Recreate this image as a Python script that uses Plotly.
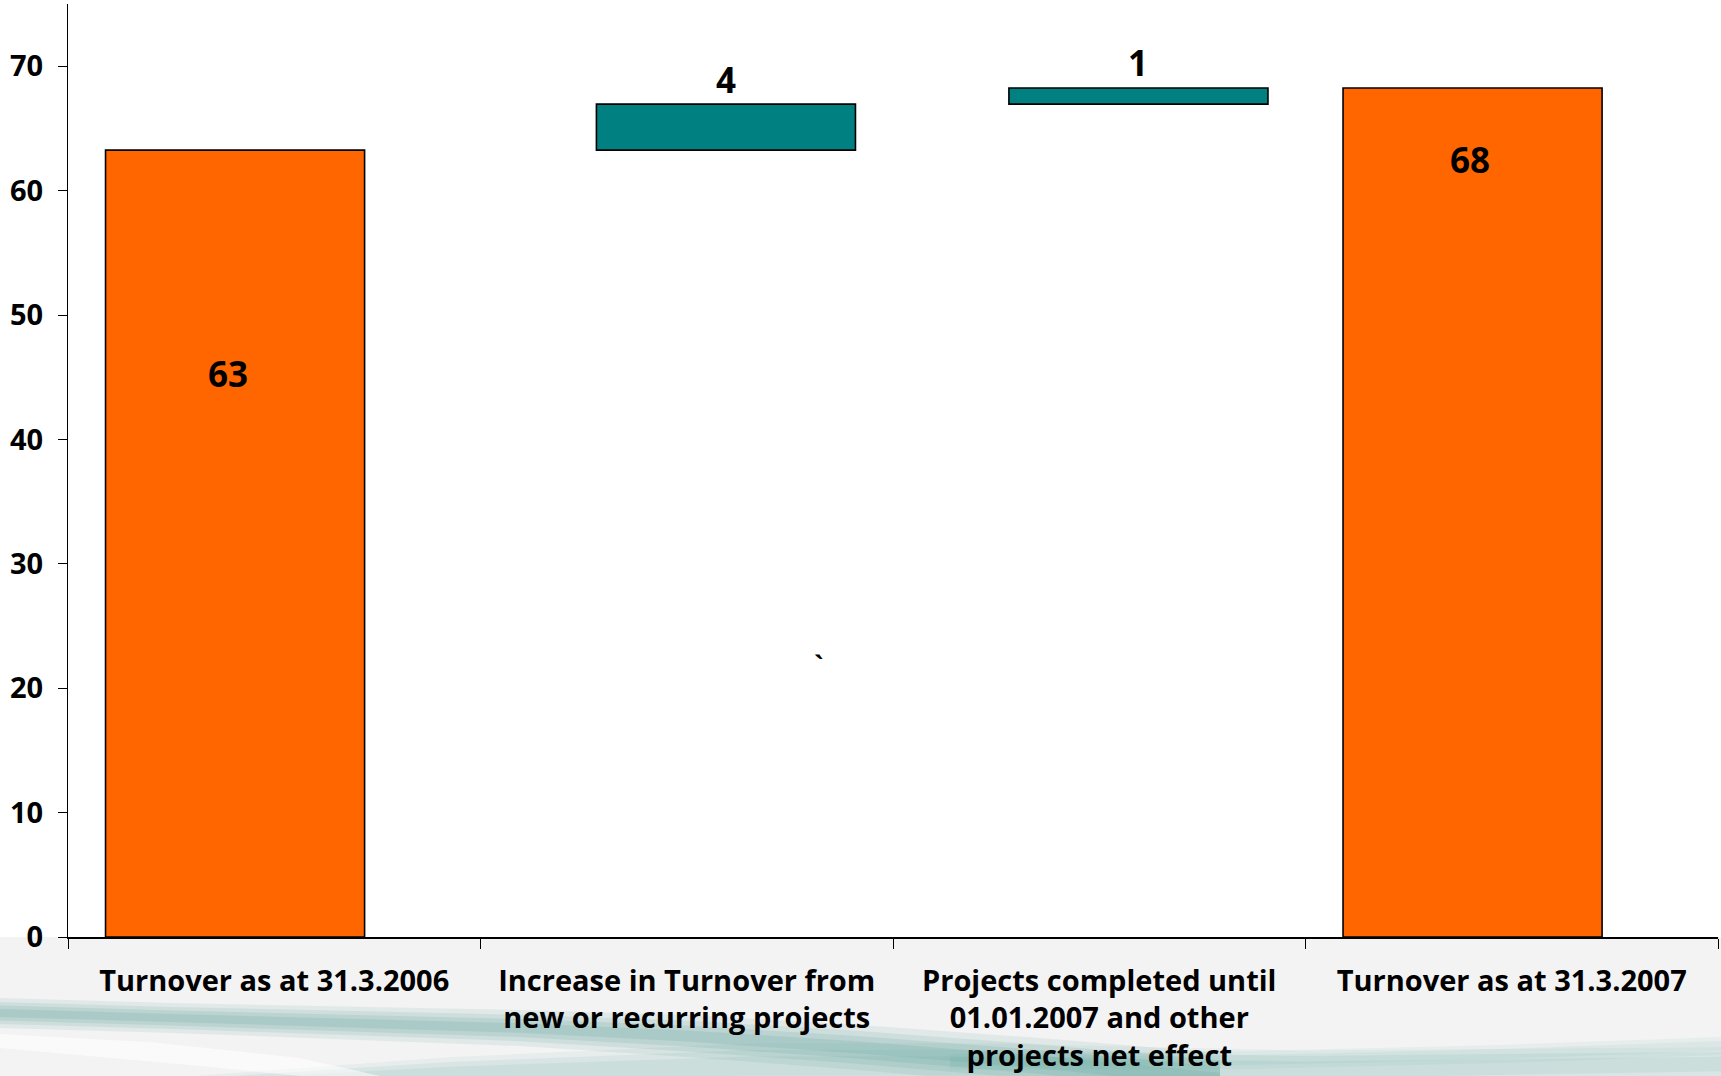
import plotly.graph_objects as go

# Turnover bridge: opening total, two changes, closing total
categories = [
    "Turnover as at 31.3.2006",
    "Increase in Turnover from<br>new or recurring projects",
    "Projects completed until<br>01.01.2007 and other<br>projects net effect",
    "Turnover as at 31.3.2007",
]
opening_total = 63.25
changes = [3.7, 1.3]
closing_total = 68.25

y_ticks = [0, 10, 20, 30, 40, 50, 60, 70]

ORANGE = "#FF6600"
TEAL = "#008080"
FONT = "Open Sans"

W, H = 1721, 1076
L, R, T, B = 68, 3, 4, 139
PW, PH = W - L - R, H - T - B

BAR_W = 0.628
SHIFT = 0.095  # totals sit left of centre, changes right of centre

# floating bars start where the previous step ended
bases = []
running = opening_total
for c in changes:
    bases.append(running)
    running += c

fig = go.Figure()
fig.add_trace(go.Bar(
    x=[categories[0], categories[3]],
    y=[opening_total, closing_total],
    width=BAR_W, offset=-BAR_W / 2 - SHIFT,
    marker=dict(color=ORANGE, line=dict(color="black", width=1.6)),
    hoverinfo="skip",
))
fig.add_trace(go.Bar(
    x=[categories[1], categories[2]],
    y=changes, base=bases,
    width=BAR_W, offset=-BAR_W / 2 + SHIFT,
    marker=dict(color=TEAL, line=dict(color="black", width=1.6)),
    hoverinfo="skip",
))

lab_font = dict(family=FONT, size=35, color="black", weight="bold")
# totals: labels inside the bars
total_label_y = [45.3, 62.5]
total_label_dx = [-7, -3]
for idx, val, ly, dx in zip([0, 3], [opening_total, closing_total], total_label_y, total_label_dx):
    fig.add_annotation(x=idx - SHIFT, y=ly, xref="x", yref="y", xshift=dx,
                       text=f"{val:.0f}", showarrow=False, font=lab_font)
# changes: labels above the bars
for idx, b, c in zip([1, 2], bases, changes):
    fig.add_annotation(x=idx + SHIFT, y=b + c, xref="x", yref="y", yshift=25,
                       text=f"{c:.0f}", showarrow=False, font=lab_font)

# small stray tick mark in the chart area
fig.add_annotation(x=(818 - L) / PW, y=(H - B - 685) / PH, xref="paper", yref="paper",
                   text="`", showarrow=False,
                   font=dict(family=FONT, size=26, color="black", weight="bold"))


def px(x, y):
    return f"{(x - L) / PW:.5f},{(H - B - y) / PH:.5f}"


def path(points):
    cmd = "M " + px(*points[0])
    for p in points[1:]:
        cmd += " L " + px(*p)
    return cmd + " Z"


def band(centre, half, scale):
    """Closed polygon around a centre line with the given half widths."""
    top = [(x, y - h * scale) for (x, y), h in zip(centre, half)]
    bot = [(x, y + h * scale) for (x, y), h in zip(centre, half)]
    return top + bot[::-1]


shapes = [
    # grey footer band
    dict(type="rect", xref="paper", yref="paper",
         x0=-L / PW, x1=(W - L) / PW, y0=(H - B - H) / PH, y1=0,
         fillcolor="#f3f3f3", line_width=0, layer="below"),
]

swoosh = []
# main teal streak, built from nested layers so its edges fade out
streak_c = [(0, 1013), (173, 1018), (520, 1028), (687, 1036), (853, 1047), (1040, 1062), (1220, 1080)]
streak_h = [10, 10, 12, 14, 15, 16, 18]
for s, a in [(1.5, 0.10), (1.1, 0.12), (0.75, 0.14), (0.4, 0.14)]:
    swoosh.append((band(streak_c, streak_h, s), f"rgba(70,150,142,{a})"))
# haze along the bottom edge
haze_c = [(200, 1084), (450, 1074), (750, 1066), (1000, 1066), (1300, 1070), (1721, 1064)]
haze_h = [6, 12, 16, 16, 14, 12]
for s, a in [(1.4, 0.08), (1.0, 0.10), (0.6, 0.10)]:
    swoosh.append((band(haze_c, haze_h, s), f"rgba(90,165,158,{a})"))
# faint streak towards the right edge
right_c = [(950, 1062), (1250, 1060), (1500, 1054), (1721, 1046)]
right_h = [6, 7, 7, 7]
for s, a in [(1.3, 0.07), (0.7, 0.08)]:
    swoosh.append((band(right_c, right_h, s), f"rgba(90,165,158,{a})"))
# pale highlight under the streak on the left
swoosh.append(([(0, 1034), (150, 1042), (300, 1058), (380, 1076), (300, 1076), (200, 1066), (0, 1048)],
               "rgba(255,255,255,0.55)"))

for pts, col in swoosh:
    shapes.append(dict(type="path", xref="paper", yref="paper", path=path(pts),
                       fillcolor=col, line_width=0, layer="below"))

tick_font = dict(family=FONT, size=29, color="black", weight="bold")
fig.update_layout(
    width=W, height=H,
    margin=dict(l=L, r=R, t=T, b=B, pad=0),
    paper_bgcolor="white", plot_bgcolor="white",
    showlegend=False, barmode="overlay",
    shapes=shapes,
    xaxis=dict(
        type="category", categoryorder="array", categoryarray=categories,
        range=[-0.5, 3.5], automargin=False,
        showline=True, linecolor="black", linewidth=1.5,
        ticks="outside", tickson="boundaries", ticklen=10, tickcolor="black", tickwidth=1,
        tickfont=dict(family=FONT, size=29, color="black", weight="bold"),
        ticklabelstandoff=17, showgrid=False, zeroline=False,
    ),
    yaxis=dict(
        range=[0, 75], tickvals=y_ticks, automargin=False,
        showline=True, linecolor="black", linewidth=1.2,
        ticks="outside", ticklen=9, tickcolor="black", tickwidth=1,
        tickfont=tick_font, ticklabelstandoff=9,
        showgrid=False, zeroline=False,
    ),
)

fig.write_html("out.html")
